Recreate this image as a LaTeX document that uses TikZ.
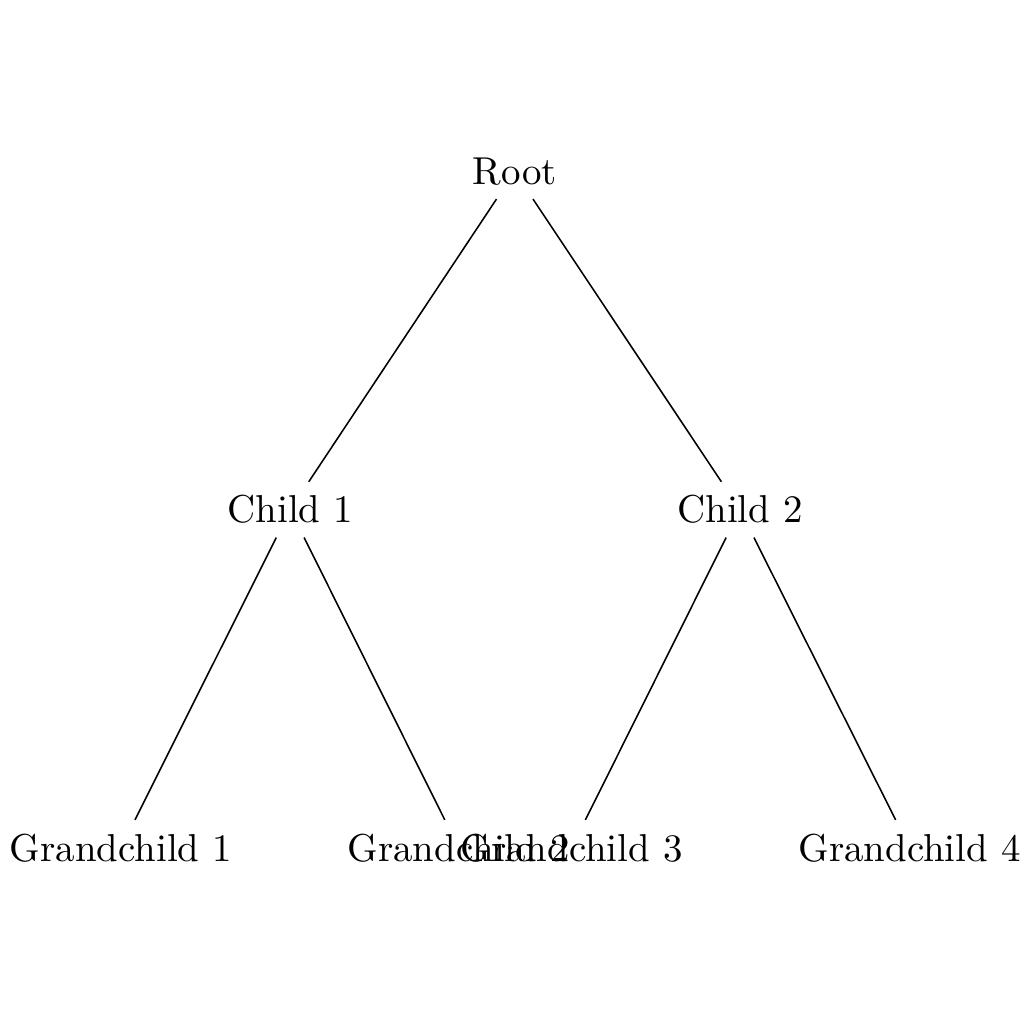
\documentclass[tikz,border=0pt]{standalone}
\begin{document}
\begin{tikzpicture}[x=1pt,y=-1pt,every node/.style={inner sep=3.333pt}]
\useasboundingbox (0,0) rectangle (263.2,263.2);
\node (r) at (132.3,44.1) {Root};
\node (c1) at (74.6,131.0) {Child 1};
\node (c2) at (190.2,131.0) {Child 2};
\node (g1) at (31.1,217.9) {Grandchild 1};
\node (g2) at (117.9,217.9) {Grandchild 2};
\node (g3) at (146.9,217.9) {Grandchild 3};
\node (g4) at (233.8,217.9) {Grandchild 4};
\draw (r) -- (c1);
\draw (r) -- (c2);
\draw (c1) -- (g1);
\draw (c1) -- (g2);
\draw (c2) -- (g3);
\draw (c2) -- (g4);
\end{tikzpicture}
\end{document}
